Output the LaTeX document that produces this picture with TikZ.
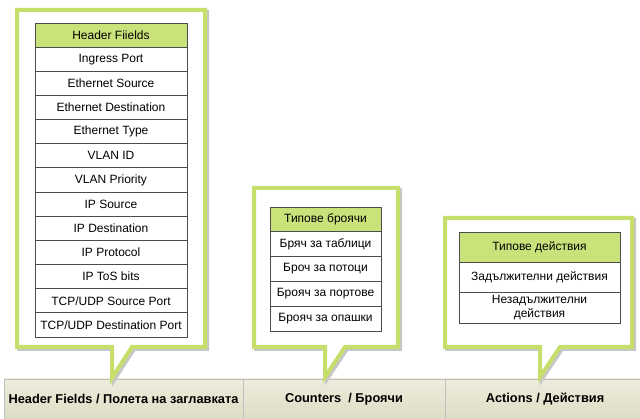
\documentclass[tikz,border=0pt]{standalone}
\usepackage{fontspec}
\setmainfont{Liberation Sans}
\usetikzlibrary{positioning}

\definecolor{calloutgreen}{HTML}{C6DF6A}
\definecolor{headgreen}{HTML}{C9E27A}
\definecolor{bartop}{HTML}{EEEDDD}
\definecolor{barbottom}{HTML}{DDDCC4}

\tikzset{
  cell/.style={draw=black!70, fill=white, line width=0.8pt, inner sep=0pt, outer sep=0pt,
    minimum height=24.15, anchor=north, align=center, font=\fontsize{12}{14}\selectfont},
  headcell/.style={cell, fill=headgreen},
  barcell/.style={draw=black!25, line width=0.6pt, top color=bartop, bottom color=barbottom,
    minimum height=40, inner sep=0pt, outer sep=0pt, font=\bfseries\fontsize{12.8}{14}\selectfont},
  boxline/.style={draw=calloutgreen, fill=white, line width=4pt, line join=miter},
  boxshadow/.style={draw=black!22, line width=4pt, line join=miter},
}

% speech box: left, top, right, bottom, pointer left, pointer right, tip
\newcommand{\speechbox}[7]{%
  \draw[boxshadow, shift={(2,2)}] (#1,#2) -- (#3,#2) -- (#3,#4) -- (#6,#4) -- (#5,#7) -- (#5,#4) -- (#1,#4) -- cycle;
  \draw[boxline] (#1,#2) -- (#3,#2) -- (#3,#4) -- (#6,#4) -- (#5,#7) -- (#5,#4) -- (#1,#4) -- cycle;}

\begin{document}
\begin{tikzpicture}[x=1pt, y=-1pt]
    \useasboundingbox (0,0) rectangle (640,419);

    % Bar along the bottom
    \node[barcell, minimum width=239] (hfbar) at (123.5,399) {Header Fields / Полета на заглавката};
    \node[barcell, minimum width=202, right=0pt of hfbar] (cntbar) {Counters \ / Броячи};
    \node[barcell, minimum width=200, right=0pt of cntbar] (actbar) {Actions / Действия};

    % Speech boxes
    \speechbox{17}{10}{205}{347}{112}{132}{378}
    \speechbox{254}{188}{398}{347}{325}{345}{377}
    \speechbox{445}{218}{632}{347}{540}{560}{377}

    % Header fields
    \node[headcell, minimum width=152] (hf0) at (111,23) {Header Fiields};
    \foreach \name [count=\i] in {{Ingress Port}, {Ethernet Source}, {Ethernet Destination},
        {Ethernet Type}, {VLAN ID}, {VLAN Priority}, {IP Source}, {IP Destination},
        {IP Protocol}, {IP ToS bits}, {TCP/UDP Source Port}, {TCP/UDP Destination Port}}
      \node[cell, minimum width=152] (hf\i) at (111,{23+\i*24.15}) {\name};

    % Counters
    \node[headcell, minimum width=111, minimum height=24.8] (cnt0) at (325.5,207) {Типове броячи};
    \foreach \name [count=\i] in {{Бряч за таблици}, {Броч за потоци}, {Брояч за портове}, {Брояч за опашки}}
      \node[cell, minimum width=111, minimum height=24.8] (cnt\i) at (325.5,{207+\i*24.8}) {\name};

    % Actions
    \node[headcell, minimum width=161, minimum height=30] (act0) at (539.5,232) {Типове действия};
    \node[cell, minimum width=161, minimum height=30, below=0pt of act0] (act1) {Задължителни действия};
    \node[cell, minimum width=161, minimum height=31, below=0pt of act1] (act2) {Незадължителни\\действия};
\end{tikzpicture}
\end{document}
